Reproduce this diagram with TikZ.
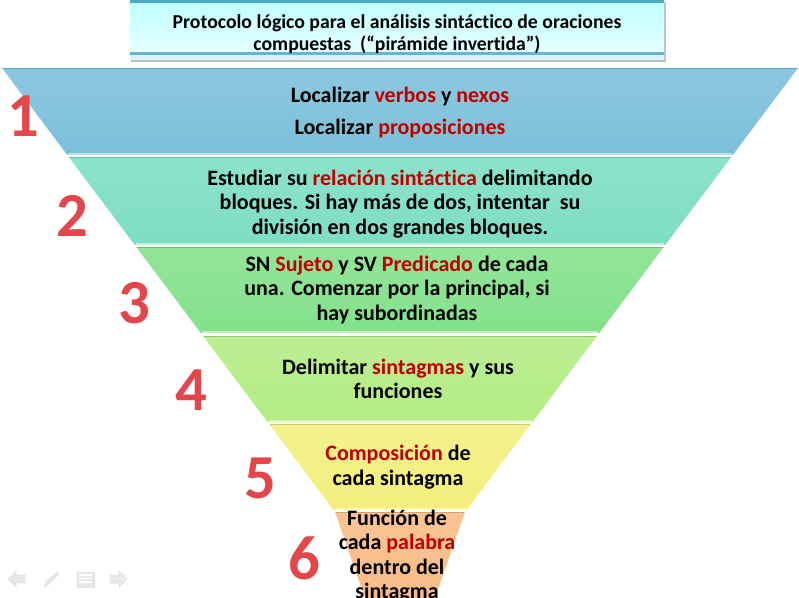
\documentclass[tikz,border=0pt]{standalone}
\usepackage{fontspec}
\setmainfont{Carlito}[Ligatures=NoCommon]
\usepackage{tikz}
\usetikzlibrary{positioning}
\definecolor{txtred}{HTML}{C00000}
\definecolor{numred}{HTML}{E2474B}
\definecolor{bandA}{HTML}{7CC0DA}
\definecolor{bandB}{HTML}{7DDEC3}
\definecolor{bandC}{HTML}{84E18B}
\definecolor{bandD}{HTML}{B3EC84}
\definecolor{bandE}{HTML}{F3EF7E}
\definecolor{bandF}{HTML}{F8BC86}
\definecolor{titlebar}{HTML}{4FA9C3}
\newcommand{\rojo}[1]{\textcolor{txtred}{#1}}
% one slice of the inverted pyramid: top y, bottom y, colour
\newcommand{\funnelBand}[3]{
	\pgfmathsetmacro{\hwTop}{398-0.75*(#1-68)}
	\pgfmathsetmacro{\hwBot}{398-0.75*(#2-68)}
	\shade[top color=#3!88!white, bottom color=#3] (400-\hwTop,#1) -- (400+\hwTop,#1) -- (400+\hwBot,#2) -- (400-\hwBot,#2) -- cycle;
	\draw[#3!85!black, line width=1] (400-\hwTop+1,#1+0.5) -- (400+\hwTop-1,#1+0.5);
	\draw[#3!50!white, line width=2] (400-\hwBot+1,#2-1) -- (400+\hwBot-1,#2-1);
}
% big red step number
\newcommand{\stepNumber}[4]{
	\node[numstyle] (num#1) at (#2,#3) {#4};
}
\tikzset{
	bandtext/.style={font=\fontsize{16.5}{18.4}\selectfont\bfseries, align=center, inner sep=0pt},
	titletext/.style={font=\fontsize{14.8}{16.5}\selectfont\bfseries, align=center, inner sep=0pt},
	numstyle/.style={font=\fontsize{47}{47}\selectfont\bfseries, text=numred, inner sep=0pt},
	navicon/.style={fill=black!9, draw=black!12}
}
\begin{document}
\begin{tikzpicture}[x=0.75pt, y=-0.75pt]
	\useasboundingbox (0,0) rectangle (799,598);
	% title box
	\fill[black!25] (131,2) rectangle (666,62);
	\shade[top color=cyan!25!white, bottom color=cyan!8!white] (130,0) rectangle (664,60);
	\fill[titlebar] (130,0) rectangle (664,3);
	\fill[titlebar!85!white] (130,52) rectangle (664,55);
	\fill[cyan!15!white] (130,55) rectangle (664,60);
	\node[titletext] (title) at (397,34) {Protocolo lógico para el análisis sintáctico de oraciones\\ compuestas~ (“pirámide invertida”)};

	% pyramid slices
	\funnelBand{68}{155}{bandA}
	\funnelBand{157}{245}{bandB}
	\funnelBand{247}{333}{bandC}
	\funnelBand{336}{422}{bandD}
	\funnelBand{424}{510}{bandE}
	\shade[top color=bandF!88!white, bottom color=bandF] (335,512) -- (465,512) -- (435,598) -- (365,598) -- cycle;
	\draw[bandF!85!black, line width=1] (336,512.5) -- (464,512.5);

	% texts
	\node[bandtext] (t1a) at (400,97) {Localizar \rojo{verbos} y \rojo{nexos}};
	\node[bandtext] (t1b) at (400,129) {Localizar \rojo{proposiciones}};
	\node[bandtext] (t2) at (400,204) {Estudiar su \rojo{relación sintáctica} delimitando\\ bloques. Si hay más de dos, intentar~ su\\ división en dos grandes bloques.};
	\node[bandtext] (t3) at (397,290) {SN \rojo{Sujeto} y SV \rojo{Predicado} de cada\\ una. Comenzar por la principal, si\\ hay subordinadas};
	\node[bandtext] (t4) at (398,379) {Delimitar \rojo{sintagmas} y sus\\ funciones};
	\node[bandtext] (t5) at (398,467) {\rojo{Composición} de\\ cada sintagma};
	\node[bandtext] (t6) at (397,556) {Función de\\ cada \rojo{palabra}\\ dentro del\\ sintagma};

	% step numbers
	\stepNumber{1}{23}{116}{1}
	\stepNumber{2}{72}{216}{2}
	\stepNumber{3}{134}{303}{3}
	\stepNumber{4}{191}{390}{4}
	\stepNumber{5}{260}{478}{5}
	\stepNumber{6}{304}{558}{6}

	% slide show controls
	\fill[navicon] (8,579) -- (16,571) -- (16,575) -- (25,575) -- (25,583) -- (16,583) -- (16,587) -- cycle;
	\fill[navicon] (44,587) -- (46,582) -- (57,572) -- (59,574) -- (48,585) -- cycle;
	\fill[navicon] (77,572) rectangle (94,587);
	\foreach \ly in {575,578.5,582} \draw[white, line width=0.8] (79,\ly) -- (92,\ly);
	\fill[navicon] (127,579) -- (119,571) -- (119,575) -- (110,575) -- (110,583) -- (119,583) -- (119,587) -- cycle;
\end{tikzpicture}
\end{document}
